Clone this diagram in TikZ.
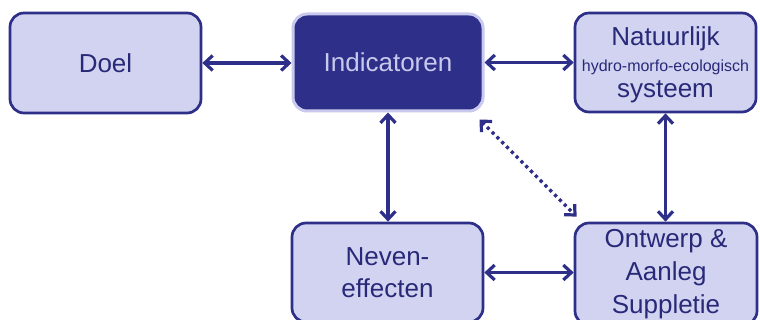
\documentclass[tikz,border=0pt]{standalone}
\usepackage{fontspec}
\setmainfont{Liberation Sans}
\usetikzlibrary{arrows.meta}
\definecolor{navy}{RGB}{46,47,136}
\definecolor{lav}{RGB}{210,211,240}
\definecolor{lavedge}{RGB}{200,201,236}
\definecolor{txt}{RGB}{40,41,120}
\tikzset{
  box/.style={draw=navy, line width=2.7pt, fill=lav, rounded corners=14pt, text=txt, align=center, inner sep=0pt, font=\fontsize{26}{31}\selectfont},
  darkbox/.style={box, draw=lavedge, line width=3pt, fill=navy, text=lavedge},
  arr/.style={draw=navy, line width=3.2pt, {Straight Barb[length=8pt,width=15pt]}-{Straight Barb[length=8pt,width=15pt]}},
  dotarr/.style={arr, dash pattern=on 3.2pt off 3.6pt}
}
\begin{document}
\begin{tikzpicture}[x=1pt,y=-1pt]
\useasboundingbox (0,0) rectangle (760,320);
\clip (0,0) rectangle (760,320);
\node[box, minimum width=191pt, minimum height=100pt] (doel) at (105.5,63) {Doel};
\node[darkbox, minimum width=190pt, minimum height=97pt] (ind) at (388,62.5) {Indicatoren};
\node[box, minimum width=181pt, minimum height=99pt, font=\fontsize{26}{26}\selectfont] (nat) at (665.5,62.5) {\rule{0pt}{22.5pt}Natuurlijk\\{\fontsize{16}{20}\selectfont hydro-morfo-ecologisch}\\systeem};
\node[box, minimum width=191pt, minimum height=99pt, font=\fontsize{26}{32}\selectfont] (nev) at (387.5,272.5) {Neven-\\effecten};
\node[box, minimum width=182pt, minimum height=102pt, font=\fontsize{26}{33}\selectfont] (ont) at (666,274) {Ontwerp \&\\Aanleg\\Suppletie};
\draw[arr] (doel.east) -- (ind.west |- doel.east);
\draw[arr] (ind.east) -- (nat.west |- ind.east);
\draw[arr] (ind.south) -- (ind.south |- nev.north);
\draw[arr] (nat.south) -- (nat.south |- ont.north);
\draw[arr] (nev.east) -- (nev.east -| ont.west);
\draw[dotarr] ([shift={(-5,7)}]ind.south east) -- ([shift={(3,-5)}]ont.north west);
\end{tikzpicture}
\end{document}
